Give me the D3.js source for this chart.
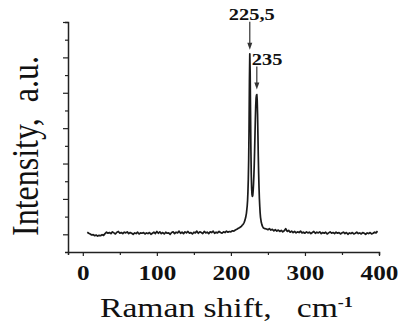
<!DOCTYPE html>
<html>
<head>
<meta charset="utf-8">
<script src="https://cdn.jsdelivr.net/npm/d3@7/dist/d3.min.js"></script>
<style>
  html, body { margin: 0; padding: 0; background: #fff; }
  svg { display: block; }
  text { white-space: pre; }
</style>
</head>
<body>
<svg id="chart" width="399" height="323"></svg>
<script>
// Raman spectrum: shift (cm-1) and intensity (a.u.)
const shiftLeft = [6,8,10,12,14,16,18,20,22,24,26,28,30,32,34,36,38,40,42,44,46,48,50,52,54,56,58,60,62,64,66,68,70,72,74,76,78,80,82,84,86,88,90,92,94,96,98,100,102,104,106,108,110,112,114,116,118,120,122,124,126,128,130,132,134,136,138,140,142,144,146,148,150,152,154,156,158,160,162,164,166,168,170,172,174,176,178,180,182,184,186,188,190,192,194,196,198,200,202,204,206,208,210];
const intensityLeft = [0.06,0.03,0.01,-0.02,-0.01,-0.04,-0.02,-0.05,-0.03,-0.04,-0.01,-0.03,0.02,0.06,0.03,0.05,0.02,0.07,0.04,0.01,0.06,0.08,0.03,0.05,0.02,0.06,0.04,0.07,0.02,0.05,0.03,0.00,0.04,0.02,0.06,0.01,0.04,0.03,0.05,0.01,0.04,0.02,0.05,0.00,0.03,0.06,0.02,0.08,0.03,0.07,0.02,0.05,0.01,0.06,0.03,0.04,0.00,0.05,0.07,0.02,0.06,0.04,0.09,0.03,0.06,0.02,0.07,0.04,0.08,0.03,0.05,0.01,0.06,0.04,0.09,0.03,0.07,0.05,0.02,0.08,0.04,0.06,0.02,0.07,0.05,0.09,0.03,0.06,0.04,0.08,0.05,0.03,0.07,0.05,0.09,0.06,0.08,0.07,0.10,0.09,0.12,0.14,0.17];

const shiftPeak = [211,212,213,214,215,216,217,218,219,220,221,222,222.5,223,223.5,224,224.5,225,225.5,226,226.5,227,227.5,228,228.5,229,229.5,230,230.5,231,231.5,232,232.5,233,233.5,234,234.5,235,235.5,236,236.5,237,237.5,238,238.5,239,239.5,240,241,242,243,244,246];
const intensityPeak = [0.18,0.19,0.21,0.22,0.25,0.27,0.30,0.34,0.40,0.48,0.60,0.80,0.95,1.20,1.55,2.10,3.00,4.30,5.10,4.60,3.50,2.40,1.70,1.30,1.12,1.07,1.10,1.22,1.40,1.65,1.95,2.35,2.80,3.25,3.62,3.85,3.93,3.95,3.80,3.40,2.80,2.20,1.70,1.30,1.00,0.78,0.60,0.48,0.34,0.26,0.21,0.18,0.16];

const shiftRight = [248,250,252,254,256,258,260,262,264,266,268,270,272,274,276,278,280,282,284,286,288,290,292,294,296,298,300,302,304,306,308,310,312,314,316,318,320,322,324,326,328,330,332,334,336,338,340,342,344,346,348,350,352,354,356,358,360,362,364,366,368,370,372,374,376,378,380,382,384,386,388,390,392,394,396,398];
const intensityRight = [0.15,0.13,0.16,0.12,0.14,0.10,0.13,0.09,0.12,0.08,0.11,0.07,0.10,0.16,0.08,0.11,0.06,0.09,0.05,0.08,0.04,0.07,0.05,0.09,0.04,0.06,0.03,0.07,0.04,0.06,0.02,0.05,0.08,0.03,0.06,0.04,0.07,0.02,0.05,0.03,0.06,0.01,0.04,0.07,0.03,0.05,0.02,0.06,0.03,0.05,0.01,0.04,0.06,0.02,0.05,0.00,0.04,0.02,0.05,0.01,0.03,0.06,0.02,0.04,0.01,0.05,0.03,0.00,0.04,0.02,0.05,0.01,0.03,0.06,0.04,0.09];

// Peak annotations
const peakShifts = [225.5, 235];
const peakHeights = [5.10, 3.95];
const peakLabels = ["225,5", "235"];

const xTicks = [0, 100, 200, 300, 400];
const xMinorTicks = [50, 150, 250, 350];
const yTicks = [0, 1, 2, 3, 4, 5, 6];
const yMinorTicks = [0.5, 1.5, 2.5, 3.5, 4.5, 5.5];

const shift = shiftLeft.concat(shiftPeak, shiftRight);
const intensity = intensityLeft.concat(intensityPeak, intensityRight);
const spectrum = shift.map((s, i) => ({ s, v: intensity[i] }));

const svg = d3.select("#chart");
const serif = "'Liberation Serif', 'Times New Roman', serif";
const stretch = 1.2;
const ink = "#222";

const x = d3.scaleLinear().domain([-20, 400]).range([68, 379]);
const y = d3.scaleLinear().domain([-0.5, 6]).range([252, 22]);

// spectrum trace
svg.append("path")
  .datum(spectrum)
  .attr("fill", "none")
  .attr("stroke", "#1a1a1a")
  .attr("stroke-width", 1.7)
  .attr("stroke-linejoin", "round")
  .attr("d", d3.line().x(d => x(d.s)).y(d => y(d.v)));

// y axis: major and minor ticks, no labels
const yAxis = svg.append("g").attr("transform", `translate(${x.range()[0]},0)`);
yAxis.call(d3.axisLeft(y).tickValues(yTicks).tickSize(5).tickSizeOuter(0).tickFormat(""));
yAxis.append("g").call(d3.axisLeft(y).tickValues(yMinorTicks).tickSize(3).tickFormat(""));
yAxis.selectAll(".domain").attr("stroke", ink).attr("stroke-width", 1.5);
yAxis.selectAll(".tick line").attr("stroke", ink).attr("stroke-width", 1.2);
yAxis.select("g .domain").remove();

// x axis
const xAxis = svg.append("g").attr("transform", `translate(0,${y.range()[0]})`);
xAxis.call(d3.axisBottom(x).tickValues(xTicks).tickSize(4).tickPadding(9).tickSizeOuter(0).tickFormat(d3.format("d")));
xAxis.append("g").call(d3.axisBottom(x).tickValues(xMinorTicks).tickSize(3).tickFormat(""));
xAxis.selectAll(".domain").attr("stroke", ink).attr("stroke-width", 1.5);
xAxis.select("g .domain").remove();
xAxis.selectAll(".tick line").attr("stroke", ink).attr("stroke-width", 1.2);
xAxis.selectAll(".tick text")
  .attr("fill", "#111")
  .attr("font-family", serif)
  .attr("font-weight", "bold")
  .attr("font-size", 21)
  .attr("transform", `scale(${stretch},1)`);

// axis titles
const xTitle = svg.append("text")
  .attr("transform", `translate(100,317) scale(${stretch},1)`)
  .attr("font-family", serif)
  .attr("font-size", 28)
  .attr("fill", "#111");
xTitle.append("tspan").text("Raman shift,   cm");
xTitle.append("tspan").attr("dy", -10).attr("font-size", 15).attr("font-weight", "bold").text("-1");

svg.append("text")
  .attr("transform", `translate(38,236) scale(${stretch},1) rotate(-90)`)
  .attr("font-family", serif)
  .attr("font-size", 32)
  .attr("fill", "#111")
  .text("Intensity,  a.u.");

// peak markers: arrow plus label
const arrowLen = [28, 23];
const gap = [4, 5];
peakShifts.forEach((s, i) => {
  const px = x(s);
  const tip = y(peakHeights[i]) - gap[i];
  const top = tip - arrowLen[i];
  svg.append("line")
    .attr("x1", px).attr("x2", px)
    .attr("y1", top).attr("y2", tip - 5)
    .attr("stroke", "#333").attr("stroke-width", 1.2);
  svg.append("path")
    .attr("d", `M${px - 2.5},${tip - 7} L${px + 2.5},${tip - 7} L${px},${tip} Z`)
    .attr("fill", "#333");
  svg.append("text")
    .attr("transform", `translate(${i === 0 ? px + 2 : px - 5},${top - 2}) scale(${stretch},1)`)
    .attr("text-anchor", i === 0 ? "middle" : "start")
    .attr("font-family", serif)
    .attr("font-weight", "bold")
    .attr("font-size", 17)
    .attr("fill", "#111")
    .text(peakLabels[i]);
});
</script>
</body>
</html>
